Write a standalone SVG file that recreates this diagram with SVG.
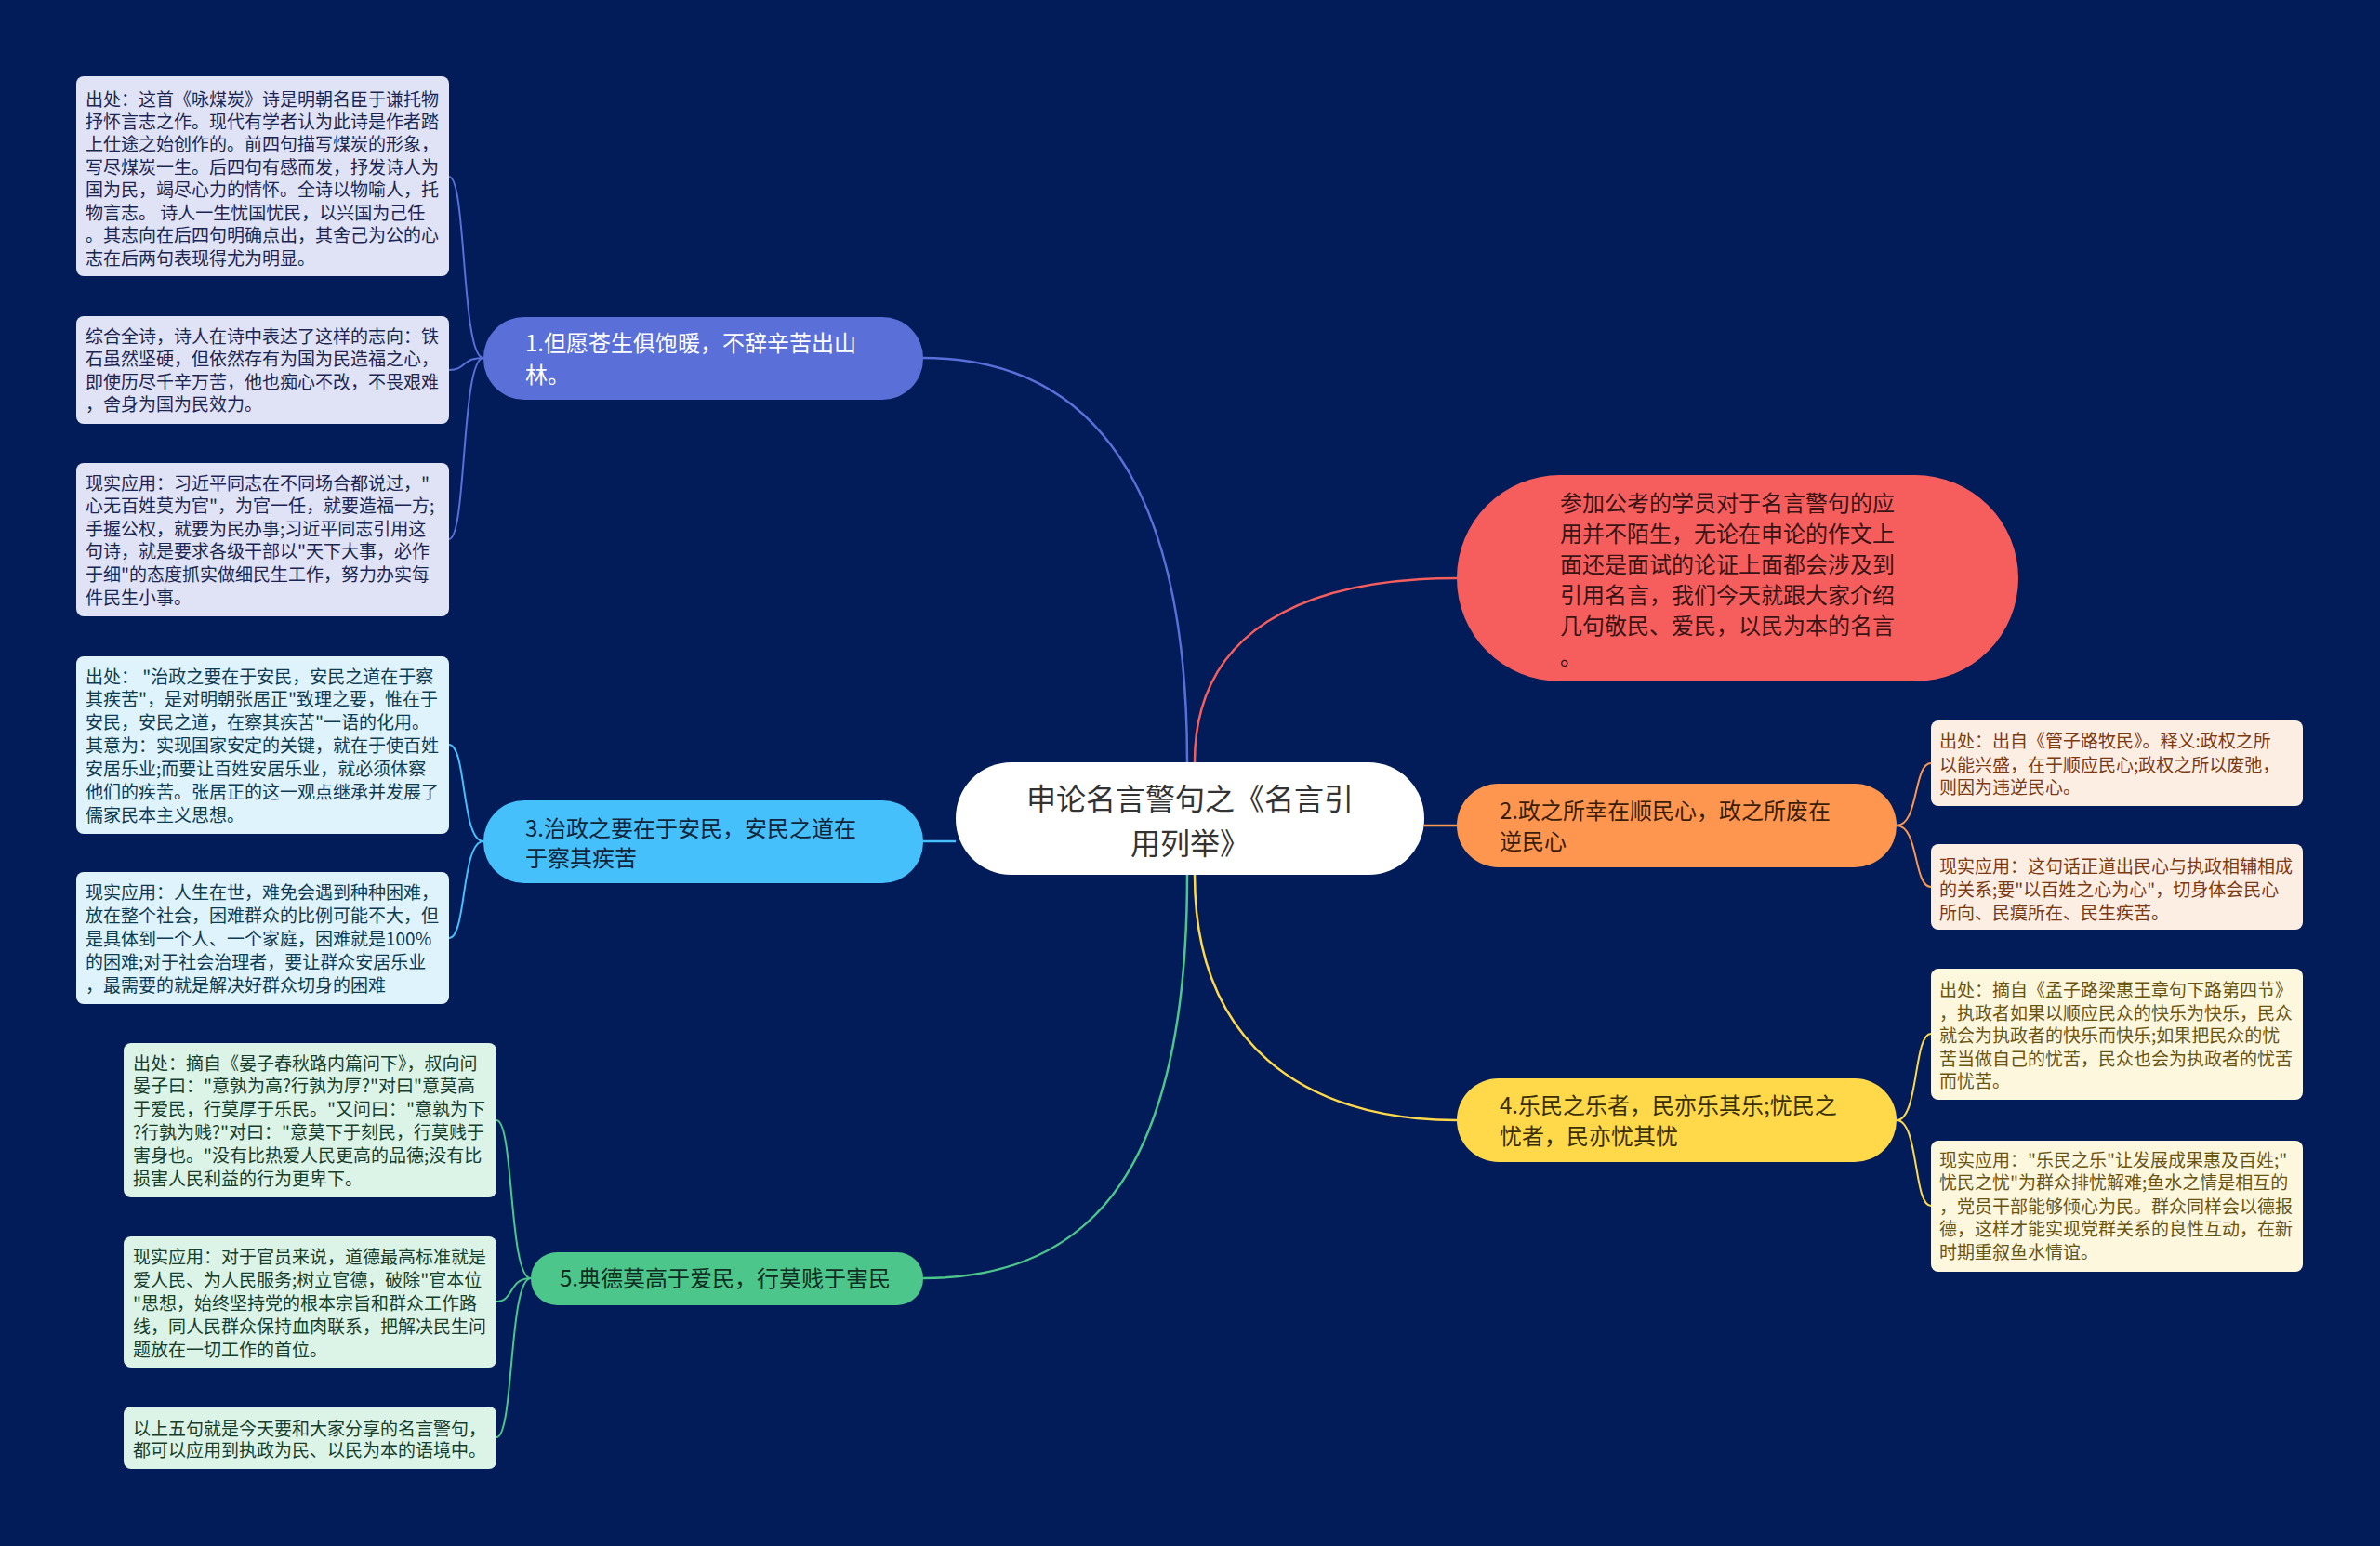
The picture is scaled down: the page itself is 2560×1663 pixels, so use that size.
<svg xmlns="http://www.w3.org/2000/svg" width="2560" height="1663" viewBox="0 0 2560 1663">
<style>
text{font-family:"Noto Sans CJK SC","Liberation Sans",sans-serif;}
.leaf text{font-size:19px;}
.main text{font-size:24px;}
.lf{rx:8;ry:8;}
.c{fill:none;stroke-width:2.5;}
.lc{fill:none;stroke-width:2;}
</style>
<rect x="0" y="0" width="2560" height="1663" fill="#011c58"/>
<g id="connectors">
<path class="c" stroke="#5a6fd8" d="M1277,820 C1277,560 1200,385 993,385"/>
<path class="c" stroke="#f65e5e" d="M1285,820 C1285,680 1400,622 1567,622"/>
<path class="c" stroke="#ff9650" d="M1532,888 L1567,888"/>
<path class="c" stroke="#45c0fb" d="M1028,905 L993,905"/>
<path class="c" stroke="#ffd94a" d="M1285,941 C1285,1120 1400,1205 1567,1205"/>
<path class="c" stroke="#4dc68c" d="M1277,941 C1277,1250 1180,1375 993,1375"/>
<path class="lc" stroke="#5a6fd8" d="M520,385 C496,385 502,190 483,190"/>
<path class="lc" stroke="#5a6fd8" d="M520,385 C496,385 502,398 483,398"/>
<path class="lc" stroke="#5a6fd8" d="M520,385 C496,385 502,580 483,580"/>
<path class="lc" stroke="#45c0fb" d="M520,905 C496,905 502,801 483,801"/>
<path class="lc" stroke="#45c0fb" d="M520,905 C496,905 502,1009 483,1009"/>
<path class="lc" stroke="#4dc68c" d="M571,1375 C547,1375 553,1205 534,1205"/>
<path class="lc" stroke="#4dc68c" d="M571,1375 C547,1375 553,1400 534,1400"/>
<path class="lc" stroke="#4dc68c" d="M571,1375 C547,1375 553,1546 534,1546"/>
<path class="lc" stroke="#ff9650" d="M2040,888 C2064,888 2058,821 2077,821"/>
<path class="lc" stroke="#ff9650" d="M2040,888 C2064,888 2058,954 2077,954"/>
<path class="lc" stroke="#ffd94a" d="M2040,1205 C2064,1205 2058,1112 2077,1112"/>
<path class="lc" stroke="#ffd94a" d="M2040,1205 C2064,1205 2058,1297 2077,1297"/>
</g>
<g id="center" class="main">
<rect x="1028" y="820" width="504" height="121" rx="60" fill="#ffffff"/>
<text x="1280" y="871" text-anchor="middle" fill="#333333" style="font-size:32px">申论名言警句之《名言引</text>
<text x="1280" y="919" text-anchor="middle" fill="#333333" style="font-size:32px">用列举》</text>
</g>
<g id="intro" class="main">
<rect x="1567" y="511" width="604" height="222" rx="111" fill="#f65e5e"/>
<g fill="#3a1414">
<text x="1678" y="550">参加公考的学员对于名言警句的应</text>
<text x="1678" y="583">用并不陌生，无论在申论的作文上</text>
<text x="1678" y="616">面还是面试的论证上面都会涉及到</text>
<text x="1678" y="649">引用名言，我们今天就跟大家介绍</text>
<text x="1678" y="682">几句敬民、爱民，以民为本的名言</text>
<text x="1678" y="715">。</text>
</g>
</g>
<g id="n1" class="main">
<rect x="520" y="341" width="473" height="89" rx="44" fill="#5a6fd8"/>
<text x="565" y="378" fill="#ffffff">1.但愿苍生俱饱暖，不辞辛苦出山</text>
<text x="565" y="412" fill="#ffffff">林。</text>
</g>
<g id="n2" class="main">
<rect x="1567" y="843" width="473" height="90" rx="45" fill="#ff9650"/>
<text x="1613" y="881" fill="#3a1e0a">2.政之所幸在顺民心，政之所废在</text>
<text x="1613" y="914" fill="#3a1e0a">逆民心</text>
</g>
<g id="n3" class="main">
<rect x="520" y="861" width="473" height="89" rx="44" fill="#45c0fb"/>
<text x="565" y="900" fill="#10243a">3.治政之要在于安民，安民之道在</text>
<text x="565" y="932" fill="#10243a">于察其疾苦</text>
</g>
<g id="n4" class="main">
<rect x="1567" y="1160" width="473" height="90" rx="45" fill="#ffd94a"/>
<text x="1613" y="1198" fill="#3a2e05">4.乐民之乐者，民亦乐其乐;忧民之</text>
<text x="1613" y="1231" fill="#3a2e05">忧者，民亦忧其忧</text>
</g>
<g id="n5" class="main">
<rect x="571" y="1347" width="422" height="57" rx="28" fill="#4dc68c"/>
<text x="602" y="1384" fill="#0f2d20">5.典德莫高于爱民，行莫贱于害民</text>
</g>
<g id="leaf1" class="leaf">
<rect class="lf" x="82" y="82" width="401" height="215" fill="#dfe3f5"/>
<g fill="#1c2552">
<text x="92" y="114">出处：这首《咏煤炭》诗是明朝名臣于谦托物</text>
<text x="92" y="138">抒怀言志之作。现代有学者认为此诗是作者踏</text>
<text x="92" y="162">上仕途之始创作的。前四句描写煤炭的形象，</text>
<text x="92" y="187">写尽煤炭一生。后四句有感而发，抒发诗人为</text>
<text x="92" y="211">国为民，竭尽心力的情怀。全诗以物喻人，托</text>
<text x="92" y="236">物言志。 诗人一生忧国忧民，以兴国为己任</text>
<text x="92" y="260">。其志向在后四句明确点出，其舍己为公的心</text>
<text x="92" y="285">志在后两句表现得尤为明显。</text>
</g>
</g>
<g id="leaf2" class="leaf">
<rect class="lf" x="82" y="340" width="401" height="116" fill="#dfe3f5"/>
<g fill="#1c2552">
<text x="92" y="369">综合全诗，诗人在诗中表达了这样的志向：铁</text>
<text x="92" y="393">石虽然坚硬，但依然存有为国为民造福之心，</text>
<text x="92" y="418">即使历尽千辛万苦，他也痴心不改，不畏艰难</text>
<text x="92" y="442">，舍身为国为民效力。</text>
</g>
</g>
<g id="leaf3" class="leaf">
<rect class="lf" x="82" y="498" width="401" height="165" fill="#dfe3f5"/>
<g fill="#1c2552">
<text x="92" y="527">现实应用：习近平同志在不同场合都说过，"</text>
<text x="92" y="551">心无百姓莫为官"，为官一任，就要造福一方;</text>
<text x="92" y="576">手握公权，就要为民办事;习近平同志引用这</text>
<text x="92" y="600">句诗，就是要求各级干部以"天下大事，必作</text>
<text x="92" y="625">于细"的态度抓实做细民生工作，努力办实每</text>
<text x="92" y="650">件民生小事。</text>
</g>
</g>
<g id="leaf4" class="leaf">
<rect class="lf" x="82" y="706" width="401" height="191" fill="#dff3fc"/>
<g fill="#0e3a52">
<text x="92" y="735">出处： "治政之要在于安民，安民之道在于察</text>
<text x="92" y="759">其疾苦"，是对明朝张居正"致理之要，惟在于</text>
<text x="92" y="784">安民，安民之道，在察其疾苦"一语的化用。</text>
<text x="92" y="809">其意为：实现国家安定的关键，就在于使百姓</text>
<text x="92" y="834">安居乐业;而要让百姓安居乐业，就必须体察</text>
<text x="92" y="859">他们的疾苦。张居正的这一观点继承并发展了</text>
<text x="92" y="884">儒家民本主义思想。</text>
</g>
</g>
<g id="leaf5" class="leaf">
<rect class="lf" x="82" y="938" width="401" height="142" fill="#dff3fc"/>
<g fill="#0e3a52">
<text x="92" y="967">现实应用：人生在世，难免会遇到种种困难，</text>
<text x="92" y="992">放在整个社会，困难群众的比例可能不大，但</text>
<text x="92" y="1017">是具体到一个人、一个家庭，困难就是100%</text>
<text x="92" y="1042">的困难;对于社会治理者，要让群众安居乐业</text>
<text x="92" y="1067">，最需要的就是解决好群众切身的困难</text>
</g>
</g>
<g id="leaf6" class="leaf">
<rect class="lf" x="133" y="1122" width="401" height="166" fill="#dcf4e8"/>
<g fill="#173d2c">
<text x="143" y="1151">出处：摘自《晏子春秋路内篇问下》，叔向问</text>
<text x="143" y="1175">晏子曰："意孰为高?行孰为厚?"对曰"意莫高</text>
<text x="143" y="1200">于爱民，行莫厚于乐民。"又问曰："意孰为下</text>
<text x="143" y="1225">?行孰为贱?"对曰："意莫下于刻民，行莫贱于</text>
<text x="143" y="1250">害身也。"没有比热爱人民更高的品德;没有比</text>
<text x="143" y="1275">损害人民利益的行为更卑下。</text>
</g>
</g>
<g id="leaf7" class="leaf">
<rect class="lf" x="133" y="1330" width="401" height="141" fill="#dcf4e8"/>
<g fill="#173d2c">
<text x="143" y="1359">现实应用：对于官员来说，道德最高标准就是</text>
<text x="143" y="1384">爱人民、为人民服务;树立官德，破除"官本位</text>
<text x="143" y="1409">"思想，始终坚持党的根本宗旨和群众工作路</text>
<text x="143" y="1434">线，同人民群众保持血肉联系，把解决民生问</text>
<text x="143" y="1459">题放在一切工作的首位。</text>
</g>
</g>
<g id="leaf8" class="leaf">
<rect class="lf" x="133" y="1513" width="401" height="67" fill="#dcf4e8"/>
<g fill="#173d2c">
<text x="143" y="1544">以上五句就是今天要和大家分享的名言警句，</text>
<text x="143" y="1567">都可以应用到执政为民、以民为本的语境中。</text>
</g>
</g>
<g id="leaf9" class="leaf">
<rect class="lf" x="2077" y="775" width="400" height="92" fill="#fdeee3"/>
<g fill="#7b3a12">
<text x="2086" y="804">出处：出自《管子路牧民》。释义:政权之所</text>
<text x="2086" y="830">以能兴盛，在于顺应民心;政权之所以废弛，</text>
<text x="2086" y="854">则因为违逆民心。</text>
</g>
</g>
<g id="leaf10" class="leaf">
<rect class="lf" x="2077" y="908" width="400" height="92" fill="#fdeee3"/>
<g fill="#7b3a12">
<text x="2086" y="939">现实应用：这句话正道出民心与执政相辅相成</text>
<text x="2086" y="964">的关系;要"以百姓之心为心"，切身体会民心</text>
<text x="2086" y="989">所向、民瘼所在、民生疾苦。</text>
</g>
</g>
<g id="leaf11" class="leaf">
<rect class="lf" x="2077" y="1042" width="400" height="141" fill="#fdf7de"/>
<g fill="#6a5412">
<text x="2086" y="1072">出处：摘自《孟子路梁惠王章句下路第四节》</text>
<text x="2086" y="1097">，执政者如果以顺应民众的快乐为快乐，民众</text>
<text x="2086" y="1121">就会为执政者的快乐而快乐;如果把民众的忧</text>
<text x="2086" y="1146">苦当做自己的忧苦，民众也会为执政者的忧苦</text>
<text x="2086" y="1170">而忧苦。</text>
</g>
</g>
<g id="leaf12" class="leaf">
<rect class="lf" x="2077" y="1227" width="400" height="141" fill="#fdf7de"/>
<g fill="#6a5412">
<text x="2086" y="1255">现实应用："乐民之乐"让发展成果惠及百姓;"</text>
<text x="2086" y="1279">忧民之忧"为群众排忧解难;鱼水之情是相互的</text>
<text x="2086" y="1305">，党员干部能够倾心为民。群众同样会以德报</text>
<text x="2086" y="1329">德，这样才能实现党群关系的良性互动，在新</text>
<text x="2086" y="1354">时期重叙鱼水情谊。</text>
</g>
</g>
</svg>
